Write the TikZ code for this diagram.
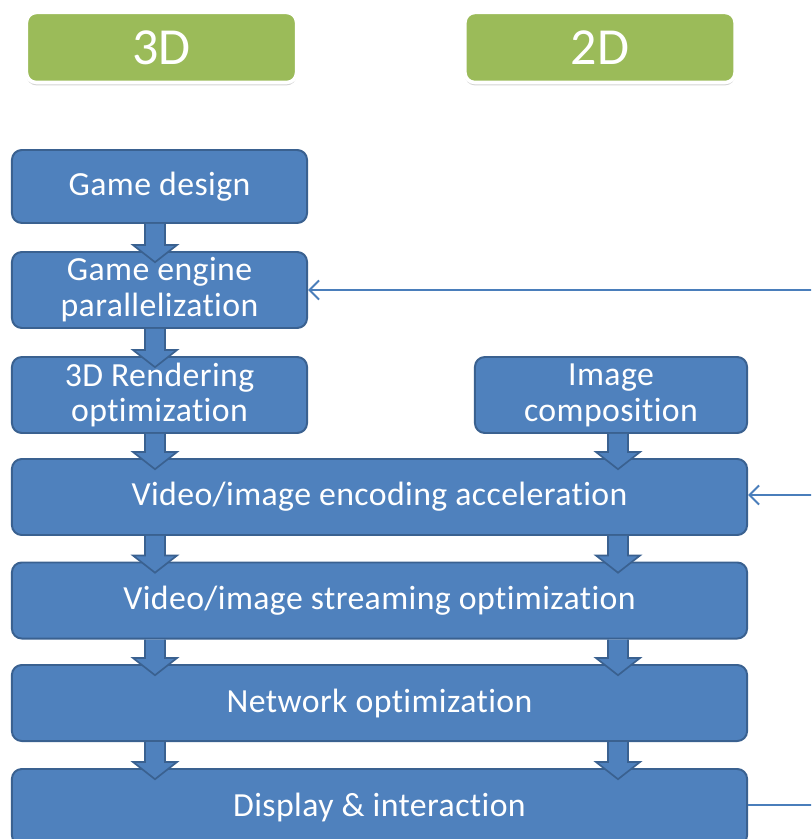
\documentclass[tikz,border=0pt]{standalone}
\usepackage{fontspec}
\setmainfont{Carlito}[Ligatures=NoCommon,LetterSpace=1.2]
\usetikzlibrary{arrows.meta,calc,shadows}

\definecolor{stageblue}{HTML}{4F81BD}
\definecolor{stageedge}{HTML}{3A6190}
\definecolor{tabgreen}{HTML}{9BBB59}
\definecolor{linkblue}{HTML}{4A7EBB}

\begin{document}
\begin{tikzpicture}[x=0.025cm,y=-0.025cm,
    stage/.style={draw=stageedge,line width=1.4pt,fill=stageblue,rounded corners=7pt,
      text=white,align=center,inner sep=0pt,minimum height=1.9cm,
      font=\fontsize{24}{25.5}\selectfont},
    tab/.style={draw=white,line width=2.5pt,fill=tabgreen,rounded corners=7pt,
      text=white,inner sep=0pt,minimum width=6.75cm,minimum height=1.75cm,
      font=\fontsize{37}{37}\selectfont,
      drop shadow={shadow xshift=0pt,shadow yshift=-2pt,opacity=0.35}},
    flow/.style={draw=stageedge,line width=1.2pt,fill=stageblue,
      to path={let \p1=(\tikztostart),\p2=(\tikztotarget) in
        (\x1-0.25cm,\y1) -- (\x1-0.25cm,\y2+0.15cm) -- (\x1-0.55cm,\y2+0.15cm)
        -- (\x1,\y2-0.28cm) -- (\x1+0.55cm,\y2+0.15cm) -- (\x1+0.25cm,\y2+0.15cm)
        -- (\x1+0.25cm,\y1)}},
    link/.style={draw=linkblue,line width=1.4pt}]
  \useasboundingbox (0,0) rectangle (811,839);
  \clip (0,0) rectangle (811,839);

  % column headers
  \node[tab] (tab3d) at (161.5,47.5) {3D};
  \node[tab] (tab2d) at (600,47.5) {2D};

  % 3D only stages
  \node[stage,minimum width=7.375cm,minimum height=1.825cm] (design) at (159.5,186.5) {Game design};
  \node[stage,minimum width=7.375cm] (engine) at (159.5,290) {Game engine\\parallelization};
  \node[stage,minimum width=7.375cm] (render) at (159.5,395) {3D Rendering\\optimization};
  % 2D only stage
  \node[stage,minimum width=6.8cm] (compose) at (611,395) {Image\\composition};

  % shared stages
  \node[stage,minimum width=18.375cm] (encode) at (379.5,497) {Video/image encoding acceleration};
  \node[stage,minimum width=18.375cm] (stream) at (379.5,600.5) {Video/image streaming optimization};
  \node[stage,minimum width=18.375cm] (network) at (379.5,703) {Network optimization};
  \node[stage,minimum width=18.375cm] (display) at (379.5,807) {Display \& interaction};

  % arrow columns
  \coordinate (lcol) at (155,0);
  \coordinate (rcol) at (618,0);

  \draw[flow] (design.south -| lcol) to (engine.north -| lcol);
  \draw[flow] (engine.south -| lcol) to (render.north -| lcol);
  \draw[flow] (render.south -| lcol) to (encode.north -| lcol);
  \draw[flow] (compose.south -| rcol) to (encode.north -| rcol);
  \foreach \a/\b in {encode/stream,stream/network,network/display}{
    \draw[flow] (\a.south -| lcol) to (\b.north -| lcol);
    \draw[flow] (\a.south -| rcol) to (\b.north -| rcol);
  }

  % feedback from the display side
  \coordinate (fbengine) at (812,290);
  \coordinate (fbencode) at (812,495);
  \coordinate (fbdisplay) at (812,805);
  \draw[link,-{Straight Barb[length=2.4mm,width=4.8mm]}] (fbengine) -- (engine.east |- fbengine);
  \draw[link,-{Straight Barb[length=2.4mm,width=4.8mm]}] (fbencode) -- (encode.east |- fbencode);
  \draw[link] (display.east |- fbdisplay) -- (fbdisplay);
\end{tikzpicture}
\end{document}
